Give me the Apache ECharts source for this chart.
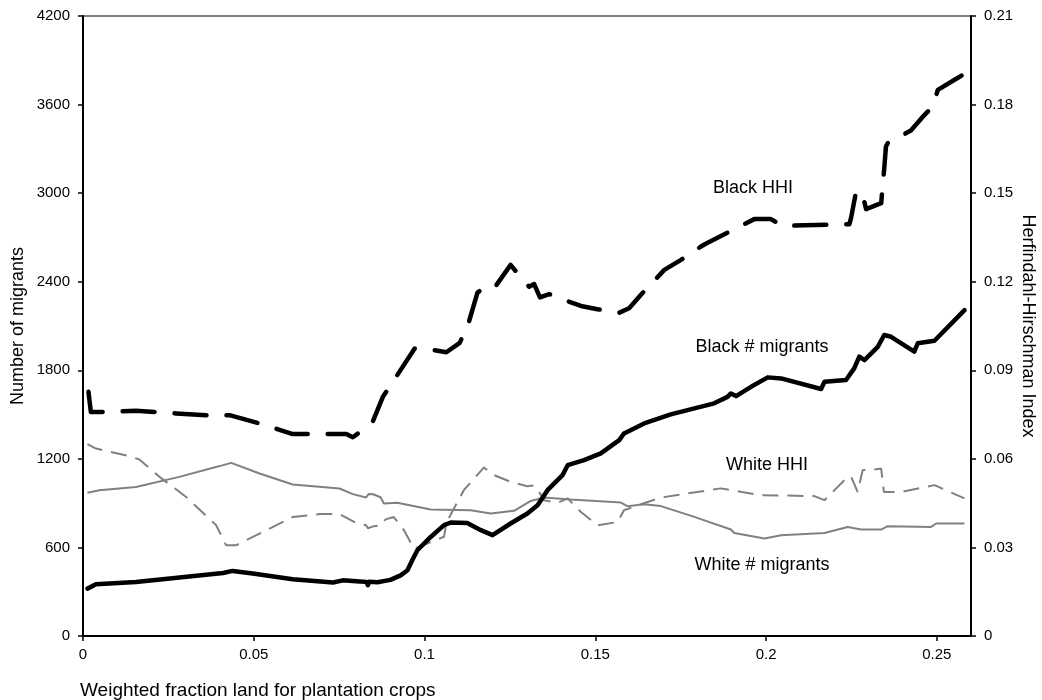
<!DOCTYPE html>
<html>
<head>
<meta charset="utf-8">
<title>Migrants and HHI by plantation-crop land share</title>
<script src="https://cdn.jsdelivr.net/npm/echarts@6/dist/echarts.min.js"></script>
<style>
  html, body { margin: 0; padding: 0; background: #fff; }
  #chart { width: 1042px; height: 700px; }
</style>
</head>
<body>
<div id="chart"></div>
<script>
// x: weighted fraction of land in plantation crops
// left axis: number of migrants, right axis: Herfindahl-Hirschman Index

const xTicks = [0, 0.05, 0.1, 0.15, 0.2, 0.25];

const blackMigrants = [
  [0.0013, 321], [0.0038, 350], [0.0155, 366], [0.0410, 427], [0.0438, 441],
  [0.0497, 423], [0.0614, 384], [0.0732, 362], [0.0761, 377], [0.0810, 370],
  [0.0830, 366], [0.0834, 344], [0.0838, 368], [0.0862, 364], [0.0900, 380],
  [0.0930, 411], [0.0950, 445], [0.0964, 513], [0.0979, 581], [0.1018, 671],
  [0.1057, 751], [0.1077, 769], [0.1125, 766], [0.1165, 717], [0.1199, 683],
  [0.1252, 762], [0.1301, 830], [0.1331, 886], [0.1360, 988], [0.1404, 1090],
  [0.1419, 1157], [0.1467, 1191], [0.1516, 1237], [0.1570, 1327], [0.1584, 1372],
  [0.1643, 1440], [0.1721, 1501], [0.1848, 1576], [0.1887, 1620], [0.1897, 1643],
  [0.1912, 1625], [0.1956, 1688], [0.2005, 1752], [0.2044, 1745], [0.2161, 1673],
  [0.2171, 1722], [0.2234, 1734], [0.2258, 1813], [0.2273, 1892], [0.2288, 1869],
  [0.2327, 1959], [0.2346, 2039], [0.2366, 2027], [0.2434, 1926], [0.2444, 1983],
  [0.2493, 2000], [0.2581, 2208]
];

const blackHHI = [
  [0.0016, 0.0827], [0.0023, 0.0759], [0.0057, 0.0759], [0.0155, 0.0763], [0.0273, 0.0754],
  [0.0360, 0.0748], [0.0429, 0.0748], [0.0517, 0.0720], [0.0614, 0.0684], [0.0771, 0.0684],
  [0.0790, 0.0673], [0.0810, 0.0690], [0.0849, 0.0728], [0.0878, 0.0810], [0.0917, 0.0878],
  [0.0971, 0.0974], [0.1025, 0.0969], [0.1064, 0.0961], [0.1103, 0.0993], [0.1127, 0.1053],
  [0.1155, 0.1163], [0.1184, 0.1189], [0.1208, 0.1185], [0.1252, 0.1257], [0.1287, 0.1208],
  [0.1306, 0.1183], [0.1321, 0.1192], [0.1338, 0.1147], [0.1365, 0.1158], [0.1409, 0.1138],
  [0.1458, 0.1118], [0.1506, 0.1107], [0.1570, 0.1095], [0.1599, 0.1110], [0.1633, 0.1155],
  [0.1702, 0.1240], [0.1751, 0.1274], [0.1809, 0.1319], [0.1829, 0.1332], [0.1965, 0.1412],
  [0.2014, 0.1412], [0.2049, 0.1389], [0.2112, 0.1391], [0.2244, 0.1395], [0.2249, 0.1417],
  [0.2264, 0.1508], [0.2283, 0.1491], [0.2293, 0.1446], [0.2337, 0.1466], [0.2346, 0.1584],
  [0.2351, 0.1658], [0.2356, 0.1669], [0.2424, 0.1712], [0.2459, 0.1759], [0.2488, 0.1793],
  [0.2503, 0.1850], [0.2552, 0.1884], [0.2581, 0.1904]
];

const whiteMigrants = [
  [0.0013, 970], [0.0048, 988], [0.0155, 1010], [0.0282, 1078], [0.0400, 1151],
  [0.0434, 1173], [0.0517, 1101], [0.0614, 1026], [0.0751, 999], [0.0790, 961],
  [0.0829, 938], [0.0836, 962], [0.0850, 960], [0.0871, 940], [0.0881, 898],
  [0.0920, 902], [0.1018, 857], [0.1135, 852], [0.1194, 830], [0.1262, 848],
  [0.1311, 915], [0.1350, 938], [0.1428, 925], [0.1575, 904], [0.1594, 879],
  [0.1643, 893], [0.1692, 880], [0.1790, 807], [0.1897, 721], [0.1907, 698],
  [0.1995, 660], [0.2044, 683], [0.2171, 698], [0.2239, 739], [0.2278, 721],
  [0.2337, 721], [0.2356, 744], [0.2483, 739], [0.2498, 762], [0.2581, 762]
];

const whiteHHI = [
  [0.0013, 0.0650], [0.0038, 0.0635], [0.0136, 0.0609], [0.0165, 0.0598], [0.0224, 0.0539],
  [0.0302, 0.0471], [0.0390, 0.0375], [0.0419, 0.0307], [0.0448, 0.0307], [0.0517, 0.0347],
  [0.0614, 0.0403], [0.0693, 0.0413], [0.0751, 0.0413], [0.0800, 0.0383], [0.0829, 0.0375],
  [0.0834, 0.0365], [0.0852, 0.0372], [0.0871, 0.0374], [0.0886, 0.0395], [0.0910, 0.0403],
  [0.0940, 0.0358], [0.0969, 0.0296], [0.0989, 0.0304], [0.1057, 0.0336], [0.1064, 0.0384],
  [0.1115, 0.0494], [0.1174, 0.0571], [0.1199, 0.0547], [0.1252, 0.0522], [0.1301, 0.0507],
  [0.1320, 0.0510], [0.1331, 0.0496], [0.1350, 0.0460], [0.1389, 0.0451], [0.1419, 0.0466],
  [0.1458, 0.0420], [0.1506, 0.0375], [0.1565, 0.0386], [0.1584, 0.0426], [0.1653, 0.0454],
  [0.1692, 0.0469], [0.1868, 0.0500], [0.1897, 0.0494], [0.1985, 0.0477], [0.2141, 0.0474],
  [0.2171, 0.0460], [0.2239, 0.0539], [0.2249, 0.0540], [0.2268, 0.0488], [0.2283, 0.0562],
  [0.2307, 0.0562], [0.2337, 0.0567], [0.2345, 0.0488], [0.2395, 0.0488], [0.2493, 0.0511],
  [0.2581, 0.0466]
];

const FONT = '"Liberation Sans", Arial, sans-serif';
const INK = '#000';
const GREY = '#808080';

const chart = echarts.init(document.getElementById('chart'), null, { renderer: 'canvas' });

const axisLineStyle = { show: true, lineStyle: { color: INK, width: 2 } };
const tickStyle = { show: true, inside: false, length: 5, lineStyle: { color: INK, width: 1.5 } };
const labelStyle = { color: INK, fontFamily: FONT, fontSize: 15 };
const plain = v => String(+v.toFixed(4));

chart.setOption({
  backgroundColor: '#fff',
  animation: false,
  grid: {
    left: 83, right: 71, top: 16, bottom: 64,
    containLabel: false, outerBoundsMode: 'none',
    show: true, borderColor: INK, borderWidth: 1, backgroundColor: 'transparent'
  },
  xAxis: {
    type: 'value', min: 0, max: 0.26, interval: 0.05,
    axisLine: axisLineStyle,
    axisTick: Object.assign({}, tickStyle, { customValues: xTicks }),
    axisLabel: Object.assign({}, labelStyle, { margin: 11, customValues: xTicks, formatter: plain }),
    splitLine: { show: false }
  },
  yAxis: [
    {
      type: 'value', min: 0, max: 4200, interval: 600, position: 'left',
      name: 'Number of migrants', nameLocation: 'middle', nameGap: 56, nameRotate: 90,
      nameMoveOverlap: false,
      nameTextStyle: { color: INK, fontFamily: FONT, fontSize: 18 },
      axisLine: axisLineStyle, axisTick: tickStyle,
      axisLabel: Object.assign({}, labelStyle, { margin: 13, formatter: plain }),
      splitLine: { show: false }
    },
    {
      type: 'value', min: 0, max: 0.21, interval: 0.03, position: 'right',
      name: 'Herfindahl-Hirschman Index', nameLocation: 'middle', nameGap: 48, nameRotate: -90,
      nameMoveOverlap: false,
      nameTextStyle: { color: INK, fontFamily: FONT, fontSize: 18 },
      axisLine: axisLineStyle, axisTick: tickStyle,
      axisLabel: Object.assign({}, labelStyle, { margin: 13, formatter: plain }),
      splitLine: { show: false }
    }
  ],
  graphic: [
    { type: 'text', left: 80, top: 681,
      style: { text: 'Weighted fraction land for plantation crops', fill: INK, font: '19px ' + FONT } },
    { type: 'text', x: 753, y: 188,
      style: { text: 'Black HHI', fill: INK, font: '18px ' + FONT, align: 'center', verticalAlign: 'middle' } },
    { type: 'text', x: 762, y: 347,
      style: { text: 'Black # migrants', fill: INK, font: '18px ' + FONT, align: 'center', verticalAlign: 'middle' } },
    { type: 'text', x: 767, y: 465,
      style: { text: 'White HHI', fill: INK, font: '18px ' + FONT, align: 'center', verticalAlign: 'middle' } },
    { type: 'text', x: 762, y: 565,
      style: { text: 'White # migrants', fill: INK, font: '18px ' + FONT, align: 'center', verticalAlign: 'middle' } }
  ],
  series: [
    {
      name: 'White # migrants', type: 'line', yAxisIndex: 0, data: whiteMigrants,
      showSymbol: false, symbol: 'none', smooth: false,
      lineStyle: { color: GREY, width: 2 }
    },
    {
      name: 'White HHI', type: 'line', yAxisIndex: 1, data: whiteHHI,
      showSymbol: false, symbol: 'none', smooth: false,
      lineStyle: { color: GREY, width: 2, type: [16, 9], cap: 'butt' }
    },
    {
      name: 'Black # migrants', type: 'line', yAxisIndex: 0, data: blackMigrants,
      showSymbol: false, symbol: 'none', smooth: false,
      lineStyle: { color: INK, width: 4.5, cap: 'round', join: 'round' }
    },
    {
      name: 'Black HHI', type: 'line', yAxisIndex: 1, data: blackHHI,
      showSymbol: false, symbol: 'none', smooth: false,
      lineStyle: { color: INK, width: 4.5, type: [32, 20], cap: 'round', join: 'round' }
    }
  ]
});
</script>
</body>
</html>
